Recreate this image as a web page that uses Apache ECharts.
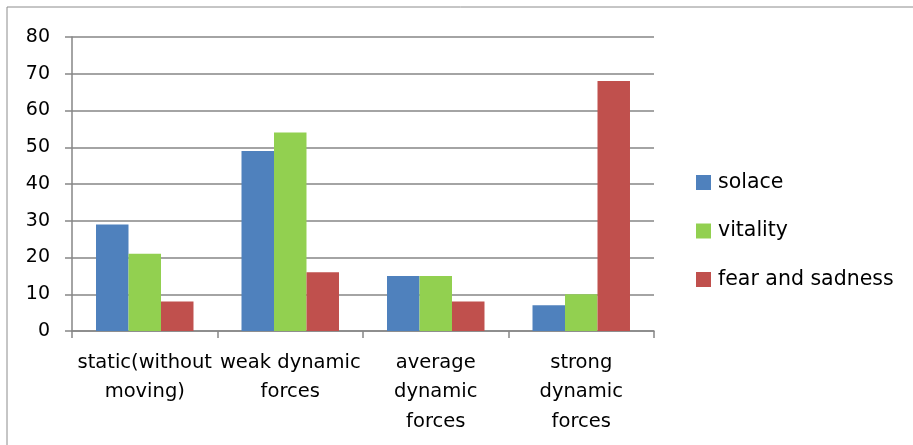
<!DOCTYPE html>
<html><head><meta charset="utf-8">
<script src="https://cdn.jsdelivr.net/npm/echarts@6/dist/echarts.min.js"></script>
<style>html,body{margin:0;padding:0;background:#fff}#c{width:913px;height:445px}</style>
</head><body><div id="c"></div>
<script>
const categories = ["static(without\nmoving)", "weak dynamic\nforces", "average\ndynamic\nforces", "strong\ndynamic\nforces"];
const solace = [29, 49, 15, 7];
const vitality = [21, 54, 15, 10];
const fearSadness = [8, 16, 8, 68];
const yTicks = {min: 0, max: 80, interval: 10};

const font = "DejaVu Sans";
const chart = echarts.init(document.getElementById('c'));
chart.setOption({
  animation: false,
  textStyle: {fontFamily: font},
  graphic: [{type: 'rect', shape: {x: 7, y: 7, width: 930, height: 460}, style: {fill: 'none', stroke: '#8c8c8c', lineWidth: 1}, silent: true}],
  grid: {left: 72, right: 259, top: 37, bottom: 114, containLabel: false},
  legend: {
    orient: 'vertical', left: 696, top: 172, padding: 0, itemWidth: 15, itemHeight: 15, itemGap: 27.5,
    icon: 'rect',
    textStyle: {fontFamily: font, fontSize: 20.5, lineHeight: 20, color: '#000', padding: [0, 0, 0, 2]},
    data: ['solace', 'vitality', 'fear and sadness']
  },
  xAxis: {
    type: 'category', data: categories,
    axisLine: {lineStyle: {color: '#868686', width: 1.5}},
    axisTick: {show: true, length: 7, lineStyle: {color: '#868686', width: 1.5}},
    axisLabel: {fontFamily: font, fontSize: 19.5, color: '#000', margin: 17, lineHeight: 29.5, interval: 0}
  },
  yAxis: {
    type: 'value', min: yTicks.min, max: yTicks.max, interval: yTicks.interval,
    axisLine: {show: true, lineStyle: {color: '#868686', width: 1.5}},
    axisTick: {show: true, length: 7, lineStyle: {color: '#868686', width: 1.5}},
    splitLine: {lineStyle: {color: '#868686', width: 1.5}},
    axisLabel: {fontFamily: font, fontSize: 19, color: '#000', margin: 22}
  },
  series: [
    {name: 'solace', type: 'bar', data: solace, itemStyle: {color: '#4F81BD'}, barGap: '0%', barCategoryGap: '33%'},
    {name: 'vitality', type: 'bar', data: vitality, itemStyle: {color: '#92D050'}},
    {name: 'fear and sadness', type: 'bar', data: fearSadness, itemStyle: {color: '#C0504D'}}
  ]
});
</script></body></html>
